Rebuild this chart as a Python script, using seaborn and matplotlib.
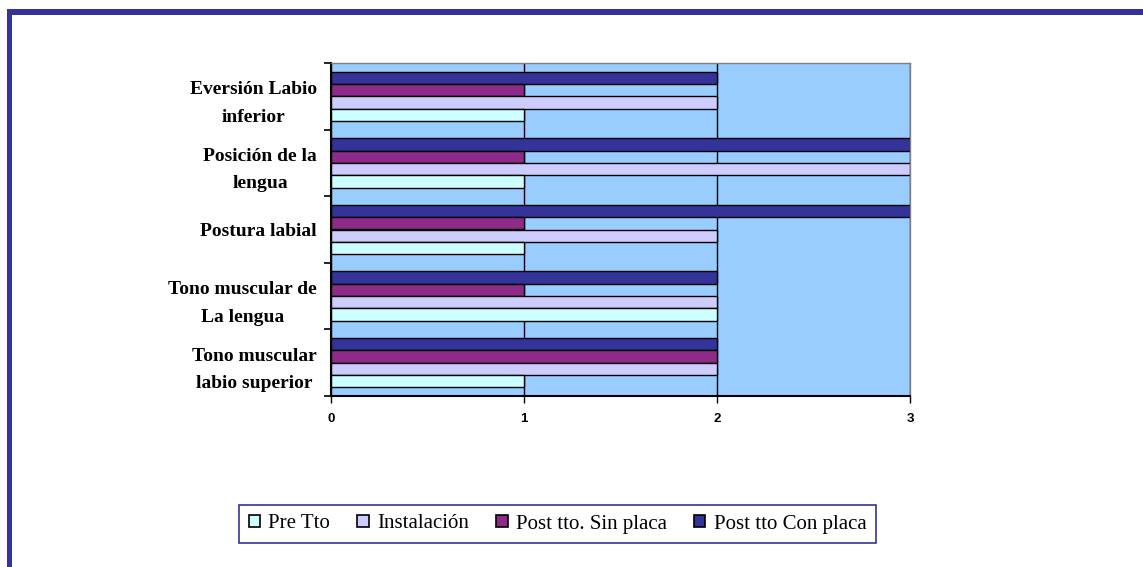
import matplotlib
matplotlib.use("Agg")
import matplotlib.pyplot as plt
from matplotlib.patches import Patch, Rectangle
import pandas as pd
import seaborn as sns

# Aspects evaluated (top to bottom as drawn)
aspectos = [
    "Eversión Labio\ninferior",
    "Posición de la\nlengua",
    "Postura labial",
    "Tono muscular de\nLa lengua",
    "Tono muscular\nlabio superior",
]

# Series in legend order
grupos = ["Pre Tto", "Instalación", "Post tto. Sin placa", "Post tto Con placa"]
pre_tto = [1, 1, 1, 2, 1]
instalacion = [2, 3, 2, 2, 2]
post_sin_placa = [1, 1, 1, 1, 2]
post_con_placa = [2, 3, 3, 2, 2]

colores = ["#CCFFFF", "#CCCCFF", "#8E2A88", "#333399"]
fondo = "#99CCFF"
marco = "#333399"

valores = [pre_tto, instalacion, post_sin_placa, post_con_placa]
filas = []
for g, vals in zip(grupos, valores):
    for a, v in zip(aspectos, vals):
        filas.append({"aspecto": a, "grupo": g, "valor": v})
df = pd.DataFrame(filas)

sns.set_theme(style="white")
plt.rcParams["font.family"] = ["Liberation Serif", "DejaVu Sans"]
plt.rcParams["text.color"] = "black"
plt.rcParams["xtick.color"] = "black"
plt.rcParams["ytick.color"] = "black"

W, H = 1143, 567
fig = plt.figure(figsize=(W / 100, H / 100), dpi=100)
fig.patch.set_facecolor("white")

x0, x1, y0, y1 = 331, 910, 63, 396
ax = fig.add_axes([x0 / W, 1 - y1 / H, (x1 - x0) / W, (y1 - y0) / H])
ax.set_facecolor(fondo)

# Within each group the first hue sits on top, so reverse the series order
hue_order = grupos[::-1]
palette = dict(zip(grupos, colores))
sns.barplot(
    data=df, x="valor", y="aspecto", hue="grupo",
    order=aspectos, hue_order=hue_order, palette=palette,
    orient="h", width=0.74, edgecolor="black", linewidth=1.0,
    saturation=1, ax=ax, legend=False,
)

ax.set_xlim(0, 3)
ax.set_ylim(len(aspectos) - 0.5, -0.5)
ax.set_xlabel("")
ax.set_ylabel("")
ax.set_axisbelow(True)
ax.xaxis.grid(True, color="black", linewidth=1.0)
ax.yaxis.grid(False)

# Spines
for s in ["left", "bottom"]:
    ax.spines[s].set_color("black")
    ax.spines[s].set_linewidth(1.5)
for s in ["top", "right"]:
    ax.spines[s].set_color("#808080")
    ax.spines[s].set_linewidth(1.0)

# X ticks
ax.set_xticks([0, 1, 2, 3])
ax.set_xticklabels(["0", "1", "2", "3"], fontfamily="Liberation Sans",
                   fontweight="bold", fontsize=9.5, color="black")
ax.tick_params(axis="x", which="major", direction="out", length=5, width=1,
               color="black", pad=7, bottom=True)

# Y: labels at category centres, tick marks at category boundaries
ax.set_yticks(range(len(aspectos)))
ax.set_yticklabels(aspectos)
ax.tick_params(axis="y", which="major", length=0, pad=10, left=True)
ax.set_yticks([i - 0.5 for i in range(len(aspectos) + 1)], minor=True)
ax.tick_params(axis="y", which="minor", direction="out", length=5, width=1.2,
               color="black", left=True)
for t in ax.get_yticklabels():
    t.set_fontfamily("Liberation Serif")
    t.set_fontweight("bold")
    t.set_fontsize(14)
    t.set_color("black")
    t.set_multialignment("center")
    t.set_linespacing(1.8)

# Legend in series order
handles = [Patch(facecolor=c, edgecolor="black", linewidth=1.2) for c in colores]
leg = fig.legend(
    handles, grupos, loc="center", ncol=4,
    bbox_to_anchor=(557.5 / W, 1 - 524 / H),
    frameon=True, fancybox=False, framealpha=1, edgecolor=marco,
    prop={"family": "Liberation Serif", "size": 15},
    handlelength=0.55, handleheight=0.55, handletextpad=0.4,
    columnspacing=1.3, borderpad=0.45, borderaxespad=0,
)
leg.get_frame().set_linewidth(1.2)
for t in leg.get_texts():
    t.set_color("black")

# Outer frame (top and left edges)
fig.add_artist(Rectangle((7 / W, 1 - 15 / H), 1 - 7 / W, 6 / H,
                         transform=fig.transFigure, facecolor=marco,
                         edgecolor="none"))
fig.add_artist(Rectangle((7 / W, 0), 5 / W, 1 - 9 / H,
                         transform=fig.transFigure, facecolor=marco,
                         edgecolor="none"))

fig.savefig("out.png", dpi=100)
